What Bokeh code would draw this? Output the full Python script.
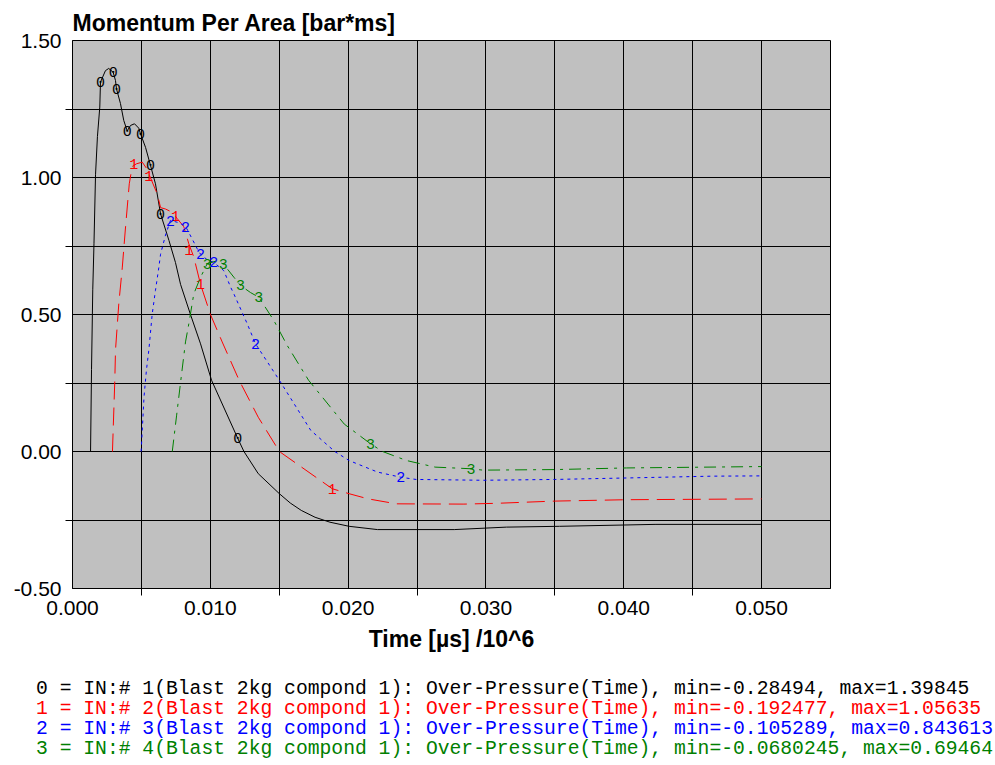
from bokeh.plotting import figure
from bokeh.layouts import column
from bokeh.models import FixedTicker, Div
from bokeh.core.properties import value
from bokeh.embed import file_html
from bokeh.resources import INLINE

# ---------------- data ----------------
t0 = [0.00131, 0.00138, 0.00147, 0.00156, 0.00167, 0.00181, 0.00198, 0.00203, 0.00239, 0.00263,
      0.00295, 0.00312, 0.00319, 0.00348, 0.00372, 0.00397, 0.00421, 0.00450, 0.00481, 0.00493,
      0.00530, 0.00566, 0.00602, 0.00639, 0.00700, 0.00747, 0.00784, 0.00856, 0.00929, 0.01009,
      0.01199, 0.01244, 0.01348, 0.01501, 0.01580, 0.01660, 0.01760, 0.01868, 0.02007, 0.02213,
      0.02770, 0.03149, 0.03534, 0.04227, 0.05000]
v0 = [0.0, 0.30, 0.59, 0.76, 1.01, 1.15, 1.257, 1.348, 1.39, 1.398,
      1.384, 1.354, 1.324, 1.27, 1.208, 1.17, 1.19, 1.196, 1.18, 1.16,
      1.11, 1.044, 0.977, 0.867, 0.77, 0.69, 0.61, 0.50, 0.393, 0.26,
      0.048, 0.0, -0.081, -0.154, -0.188, -0.215, -0.240, -0.258, -0.273, -0.285,
      -0.285, -0.276, -0.273, -0.266, -0.266]

t1 = [0.00290, 0.00307, 0.00312, 0.00336, 0.00361, 0.00385, 0.00412, 0.00433, 0.00464, 0.00506,
      0.00542, 0.00554, 0.00615, 0.00639, 0.00675, 0.00724, 0.00760, 0.00808, 0.00844, 0.00880,
      0.00929, 0.01001, 0.01086, 0.01209, 0.01348, 0.01501, 0.01885, 0.02007, 0.02146, 0.02351,
      0.02840, 0.03082, 0.03498, 0.04019, 0.05000]
v1 = [0.0, 0.26, 0.37, 0.54, 0.67, 0.82, 0.977, 1.04, 1.05, 1.056,
      1.03, 1.013, 0.94, 0.89, 0.885, 0.873, 0.85, 0.82, 0.758, 0.71,
      0.61, 0.50, 0.40, 0.26, 0.125, 0.0, -0.136, -0.154, -0.173, -0.191,
      -0.192, -0.189, -0.181, -0.176, -0.173]

t2 = [0.00498, 0.00519, 0.00537, 0.00554, 0.00578, 0.00602, 0.00626, 0.00639, 0.00675, 0.00711,
      0.00771, 0.00820, 0.00869, 0.00905, 0.00929, 0.00977, 0.01025, 0.01098, 0.01147, 0.01171,
      0.01268, 0.01328, 0.01501, 0.01729, 0.01903, 0.02007, 0.02213, 0.02382, 0.02493, 0.02978,
      0.03498, 0.03984, 0.04643, 0.05000]
v2 = [0.0, 0.20, 0.30, 0.37, 0.50, 0.588, 0.67, 0.72, 0.79, 0.8436,
      0.835, 0.822, 0.775, 0.74, 0.72, 0.70, 0.69, 0.66, 0.60, 0.575,
      0.466, 0.393, 0.26, 0.077, 0.0, -0.033, -0.075, -0.094, -0.102, -0.105,
      -0.102, -0.097, -0.090, -0.089]

t3 = [0.00724, 0.00755, 0.00786, 0.00820, 0.00844, 0.00880, 0.00929, 0.00953, 0.00977, 0.01038,
      0.01094, 0.01171, 0.01219, 0.01292, 0.01352, 0.01461, 0.01558, 0.01713, 0.01972, 0.02163,
      0.02250, 0.02424, 0.02631, 0.02892, 0.02978, 0.03498, 0.04019, 0.05000]
v3 = [0.0, 0.13, 0.26, 0.40, 0.466, 0.575, 0.636, 0.66, 0.685, 0.6946,
      0.685, 0.636, 0.606, 0.58, 0.563, 0.478, 0.387, 0.26, 0.10, 0.028,
      0.0, -0.033, -0.057, -0.063, -0.068, -0.066, -0.060, -0.055]

# curve label markers ("0", "1", "2", "3") drawn on the curves
m0_t = [0.00203, 0.00295, 0.00319, 0.00397, 0.00493, 0.00566, 0.00639, 0.01199]
m0_v = [1.348, 1.384, 1.324, 1.17, 1.16, 1.044, 0.867, 0.048]
m1_t = [0.00445, 0.00554, 0.00747, 0.00844, 0.00929, 0.01885]
m1_v = [1.05, 1.007, 0.861, 0.734, 0.612, -0.136]
m2_t = [0.00711, 0.00820, 0.00929, 0.01025, 0.01328, 0.02382]
m2_v = [0.84, 0.819, 0.722, 0.691, 0.393, -0.094]
m3_t = [0.00977, 0.01094, 0.01219, 0.01352, 0.02163, 0.02892]
m3_v = [0.685, 0.685, 0.606, 0.563, 0.028, -0.063]

x_ticks = [0.0, 0.01, 0.02, 0.03, 0.04, 0.05]
x_tick_labels = ["0.000", "0.010", "0.020", "0.030", "0.040", "0.050"]
x_minor = [0.005, 0.015, 0.025, 0.035, 0.045]
y_ticks = [-0.5, 0.0, 0.5, 1.0, 1.5]
y_tick_labels = ["-0.50", "0.00", "0.50", "1.00", "1.50"]
y_minor = [-0.25, 0.25, 0.75, 1.25]

series_ids = ["0", "1", "2", "3"]
legend_texts = [
    "0 = IN:# 1(Blast 2kg compond 1): Over-Pressure(Time), min=-0.28494, max=1.39845",
    "1 = IN:# 2(Blast 2kg compond 1): Over-Pressure(Time), min=-0.192477, max=1.05635",
    "2 = IN:# 3(Blast 2kg compond 1): Over-Pressure(Time), min=-0.105289, max=0.843613",
    "3 = IN:# 4(Blast 2kg compond 1): Over-Pressure(Time), min=-0.0680245, max=0.69464",
]
title_text = "Momentum Per Area [bar*ms]"
x_label = "Time [\u00b5s] /10^6"

# ---------------- styles / layout ----------------
colors = ["#000000", "#ff0000", "#0000ff", "#008000"]
dashes = ["solid", "18 8", "3 4", "12 6 3 6"]

W = 995
TOP_H = 675
LEG_H = 90

p = figure(frame_width=758, frame_height=548, x_range=(0.0, 0.055), y_range=(-0.5, 1.5),
           output_backend="svg", toolbar_location=None,
           min_border_left=72, min_border_top=40, min_border_right=W - 72 - 758,
           min_border_bottom=TOP_H - 40 - 548,
           background_fill_color="#c0c0c0", border_fill_color="white")
p.outline_line_color = "black"
p.outline_line_width = 1

p.title.text = title_text
p.title.align = "left"
p.title.text_font = "Liberation Sans"
p.title.text_font_style = "bold"
p.title.text_font_size = "23px"
p.title.text_color = "black"
p.title.standoff = 9
p.title.offset = 0

xt = FixedTicker(ticks=x_ticks, minor_ticks=x_minor)
yt = FixedTicker(ticks=y_ticks, minor_ticks=y_minor)
p.xaxis.ticker = xt
p.yaxis.ticker = yt
p.xgrid.ticker = xt
p.ygrid.ticker = yt
p.xaxis.major_label_overrides = dict(zip(x_ticks, x_tick_labels))
p.yaxis.major_label_overrides = dict(zip(y_ticks, y_tick_labels))

for ax in (p.xaxis, p.yaxis):
    ax.axis_line_color = "black"
    ax.major_tick_out = 0
    ax.major_tick_in = 0
    ax.minor_tick_out = 7
    ax.minor_tick_in = 0
    ax.minor_tick_line_color = "black"
    ax.major_label_text_font = "Liberation Sans"
    ax.major_label_text_font_size = "21px"
    ax.major_label_text_color = "black"

p.xaxis.major_label_standoff = 5
p.yaxis.major_label_standoff = 4
p.xaxis.axis_label = x_label
p.xaxis.axis_label_text_font = "Liberation Sans"
p.xaxis.axis_label_text_font_style = "bold"
p.xaxis.axis_label_text_font_size = "23px"
p.xaxis.axis_label_text_color = "black"
p.xaxis.axis_label_standoff = 8

for g in (p.xgrid, p.ygrid):
    g.grid_line_color = "black"
    g.grid_line_alpha = 1.0
    g.grid_line_width = 1
    g.minor_grid_line_color = "black"
    g.minor_grid_line_width = 1

series = [(t0, v0), (t1, v1), (t2, v2), (t3, v3)]
markers = [(m0_t, m0_v), (m1_t, m1_v), (m2_t, m2_v), (m3_t, m3_v)]
for i, ((t, v), (mt, mv)) in enumerate(zip(series, markers)):
    p.line(t, v, line_color=colors[i], line_width=1, line_dash=dashes[i])
    p.text(x=mt, y=mv, text=[series_ids[i]] * len(mt), text_color=colors[i],
           text_font=value("Liberation Mono"), text_font_size="15px",
           text_align="center", text_baseline="middle")

# legend block under the chart
rows = "".join(
    f'<div style="color:{c};height:20px;line-height:20px;">{txt}</div>'
    for c, txt in zip(colors, legend_texts)
)
leg_html = (
    '<div style="font-family:\'Liberation Mono\',monospace;font-size:19.7px;'
    'white-space:pre;padding-left:36px;padding-top:4px;">' + rows + '</div>'
)
leg = Div(text=leg_html, width=W, height=LEG_H, margin=(0, 0, 0, 0),
          styles={"overflow": "hidden"})

layout = column(p, leg, spacing=0)
open("out.html", "w").write(file_html(layout, INLINE))
